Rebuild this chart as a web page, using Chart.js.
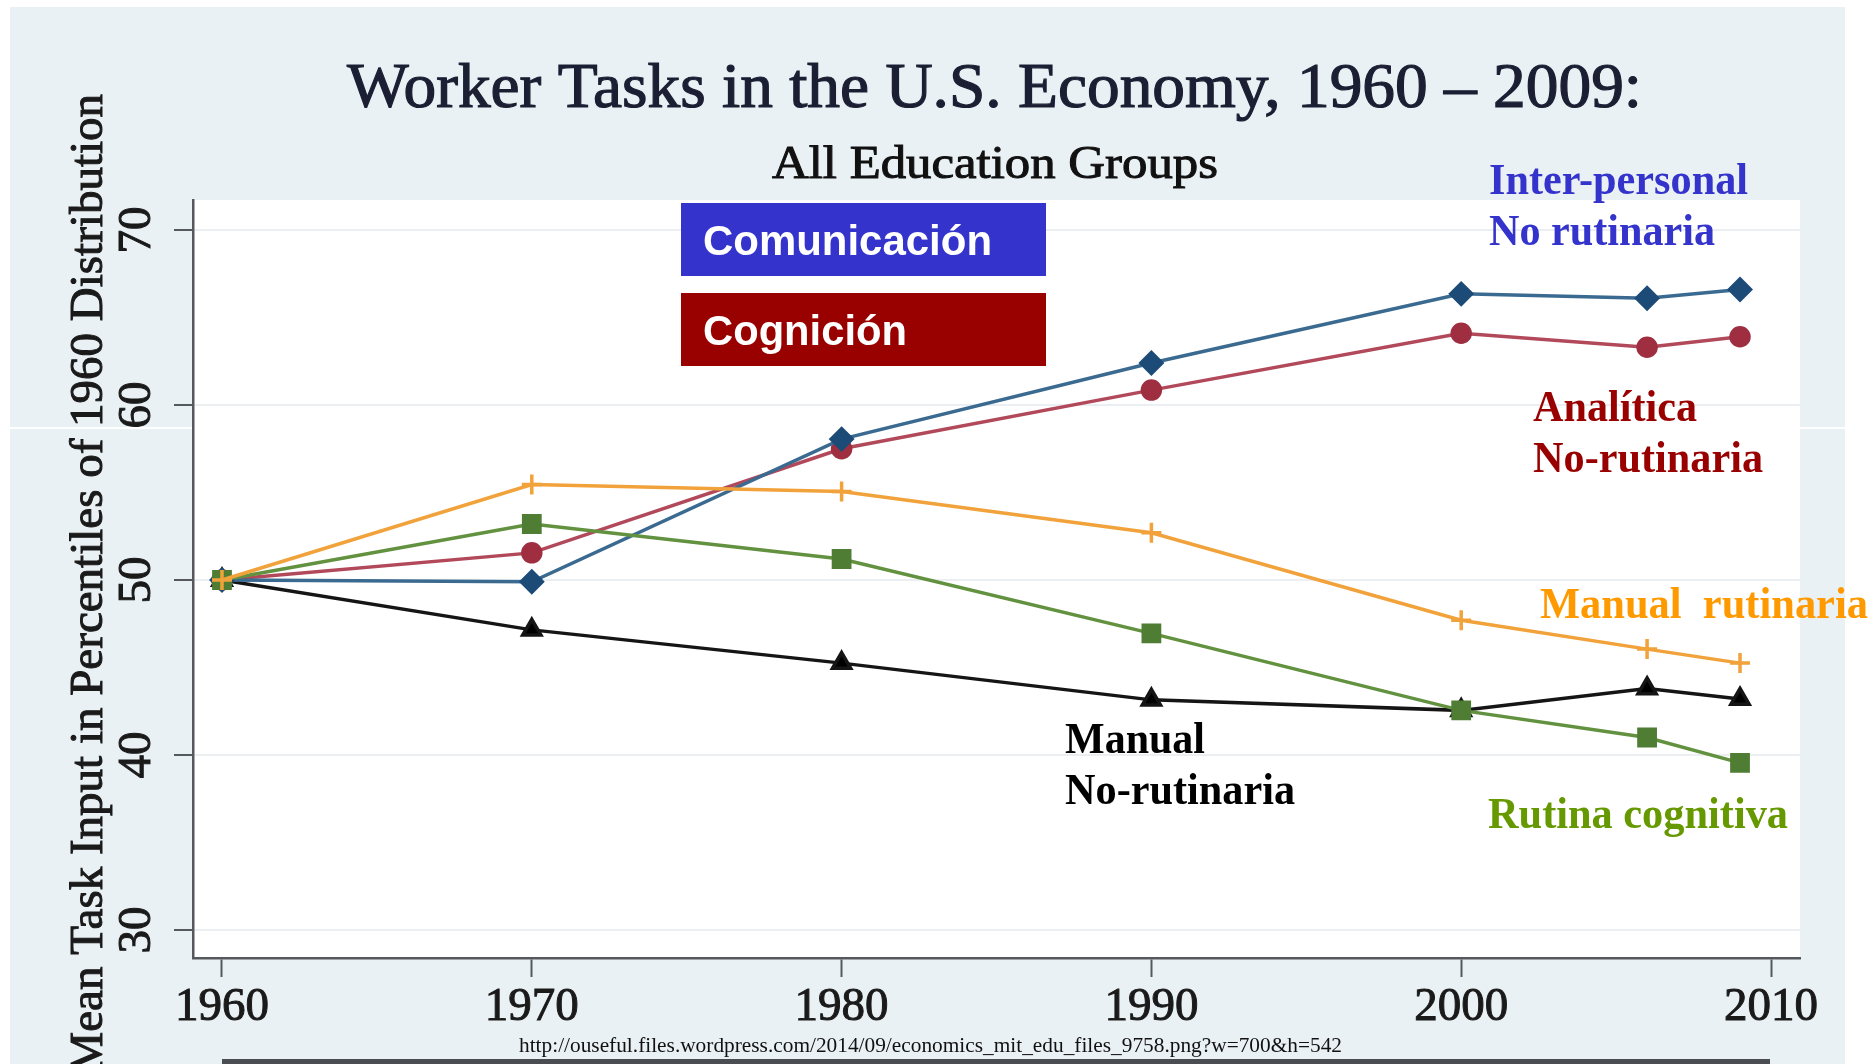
<!DOCTYPE html>
<html>
<head>
<meta charset="utf-8">
<script src="https://cdn.jsdelivr.net/npm/chart.js@4.4.1/dist/chart.umd.min.js"></script>
<style>
  html, body { margin: 0; padding: 0; background: #ffffff; }
  #wrap { width: 1876px; height: 1064px; }
</style>
</head>
<body>
<div id="wrap"><canvas id="grafico" width="1876" height="1064"></canvas></div>
<script>
// datos
const anios = [1960, 1970, 1980, 1990, 2000, 2006, 2009];
const interPersonal = [50, 49.9, 58.05, 62.4, 66.35, 66.1, 66.6];
const analitica = [50, 51.55, 57.5, 60.85, 64.1, 63.3, 63.9];
const manualRutinaria = [50, 55.45, 55.05, 52.7, 47.7, 46.05, 45.25];
const rutinaCognitiva = [50, 53.2, 51.2, 46.95, 42.55, 41.0, 39.55];
const manualNoRutinaria = [50, 47.15, 45.25, 43.15, 42.55, 43.8, 43.2];

const ticksX = [1960, 1970, 1980, 1990, 2000, 2010];
const ticksY = [30, 40, 50, 60, 70];

const titulo = "Worker Tasks in the U.S. Economy, 1960 \u2013 2009:";
const subtitulo = "All Education Groups";
const tituloY = "Mean Task Input in Percentiles of 1960 Distribution";
const fuente = "http://ouseful.files.wordpress.com/2014/09/economics_mit_edu_files_9758.png?w=700&h=542";

const serif = '"Liberation Serif", "Times New Roman", serif';
const sans = '"Liberation Sans", Arial, sans-serif';

function puntos(valores) {
  return anios.map((a, i) => ({ x: a, y: valores[i] }));
}

// texto ajustado a un ancho dado (comprime/estira en horizontal)
function textoAjustado(ctx, texto, izq, base, ancho, font, color, trazo) {
  ctx.save();
  ctx.font = font;
  ctx.fillStyle = color;
  ctx.textAlign = 'left';
  ctx.textBaseline = 'alphabetic';
  const nat = ctx.measureText(texto).width;
  ctx.translate(izq, base);
  ctx.scale(ancho / nat, 1);
  ctx.fillText(texto, 0, 0);
  if (trazo) {
    ctx.strokeStyle = color;
    ctx.lineWidth = trazo;
    ctx.strokeText(texto, 0, 0);
  }
  ctx.restore();
}

function textoGrueso(ctx, texto, x, y) {
  ctx.fillText(texto, x, y);
  ctx.strokeText(texto, x, y);
}

const fondo = {
  id: 'fondo',
  beforeDraw(chart) {
    const { ctx, chartArea: a } = chart;
    ctx.save();
    ctx.fillStyle = '#ffffff';
    ctx.fillRect(0, 0, chart.width, chart.height);
    ctx.fillStyle = '#eaf1f4';
    ctx.fillRect(10, 7, 1835, 1057);
    ctx.fillStyle = '#ffffff';
    ctx.fillRect(0, 427, 1876, 2);
    ctx.fillRect(a.left, a.top, a.right - a.left, a.bottom - a.top);
    ctx.restore();
  },
  afterDraw(chart) {
    const ctx = chart.ctx;
    const sx = chart.scales.x, sy = chart.scales.y;
    ctx.save();

    // titulos
    textoAjustado(ctx, titulo, 347, 107, 1295, '64px ' + serif, '#1c1f33', 1.2);
    textoAjustado(ctx, subtitulo, 772, 178, 446, '46px ' + serif, '#111111', 1);

    // etiquetas eje x
    ctx.font = '47px ' + serif;
    ctx.fillStyle = '#1a1a1a';
    ctx.strokeStyle = '#1a1a1a';
    ctx.lineWidth = 1;
    ctx.textAlign = 'center';
    ctx.textBaseline = 'alphabetic';
    ticksX.forEach(t => textoGrueso(ctx, String(t), sx.getPixelForValue(t), 1020));

    // etiquetas eje y (giradas)
    ticksY.forEach(t => {
      ctx.save();
      ctx.translate(150, sy.getPixelForValue(t));
      ctx.rotate(-Math.PI / 2);
      ctx.textAlign = 'center';
      textoGrueso(ctx, String(t), 0, 0);
      ctx.restore();
    });

    // titulo eje y
    ctx.save();
    ctx.font = '47px ' + serif;
    ctx.translate(102, 94);
    ctx.rotate(-Math.PI / 2);
    ctx.textAlign = 'right';
    textoGrueso(ctx, tituloY, 0, 0);
    ctx.restore();

    // cajas
    ctx.fillStyle = '#3434cc';
    ctx.fillRect(681, 203, 365, 73);
    ctx.fillStyle = '#990000';
    ctx.fillRect(681, 293, 365, 73);
    textoAjustado(ctx, 'Comunicación', 703, 255, 289, 'bold 42px ' + sans, '#ffffff');
    textoAjustado(ctx, 'Cognición', 703, 345, 204, 'bold 42px ' + sans, '#ffffff');

    // anotaciones
    const b = 'bold 44px ' + serif;
    textoAjustado(ctx, 'Inter-personal', 1489, 194, 259, b, '#3434cc');
    textoAjustado(ctx, 'No rutinaria', 1489, 245, 226, b, '#3434cc');
    textoAjustado(ctx, 'Analítica', 1533, 421, 164, b, '#990000');
    textoAjustado(ctx, 'No-rutinaria', 1533, 472, 230, b, '#990000');
    textoAjustado(ctx, 'Manual  rutinaria', 1540, 618, 328, b, '#ff9900');
    textoAjustado(ctx, 'Manual', 1065, 753, 140, b, '#000000');
    textoAjustado(ctx, 'No-rutinaria', 1065, 804, 230, b, '#000000');
    textoAjustado(ctx, 'Rutina cognitiva', 1488, 828, 300, b, '#669900');

    // fuente
    textoAjustado(ctx, fuente, 519, 1052, 823, '21px ' + serif, '#111111');

    // barra inferior
    ctx.fillStyle = '#4a4d52';
    ctx.fillRect(222, 1059, 1548, 5);
    ctx.restore();
  }
};

const ctx = document.getElementById('grafico');

new Chart(ctx, {
  type: 'line',
  data: {
    datasets: [
      {
        label: 'Manual rutinaria',
        data: puntos(manualRutinaria),
        borderColor: '#f2a23a',
        backgroundColor: '#f2a23a',
        borderWidth: 3.5,
        pointStyle: 'cross',
        pointRadius: 10,
        pointBorderWidth: 3.5,
        order: 0
      },
      {
        label: 'Rutina cognitiva',
        data: puntos(rutinaCognitiva),
        borderColor: '#62913f',
        backgroundColor: '#4e7d33',
        pointBorderColor: '#4e7d33',
        borderWidth: 3.5,
        pointStyle: 'rect',
        pointRadius: 11.5,
        order: 1
      },
      {
        label: 'Inter-personal',
        data: puntos(interPersonal),
        borderColor: '#3b6a91',
        backgroundColor: '#1d4b77',
        pointBorderColor: '#1d4b77',
        borderWidth: 3.5,
        pointStyle: 'rectRot',
        pointRadius: 10.5,
        order: 2
      },
      {
        label: 'Analítica',
        data: puntos(analitica),
        borderColor: '#b2495a',
        backgroundColor: '#9e2e40',
        pointBorderColor: '#9e2e40',
        borderWidth: 3.5,
        pointStyle: 'circle',
        pointRadius: 9,
        order: 3
      },
      {
        label: 'Manual no rutinaria',
        data: puntos(manualNoRutinaria),
        borderColor: '#151515',
        backgroundColor: '#000000',
        borderWidth: 3.5,
        pointStyle: 'triangle',
        pointRadius: 10.5,
        order: 4
      }
    ]
  },
  options: {
    responsive: false,
    animation: false,
    devicePixelRatio: 1,
    layout: { padding: { left: 174, right: 76, top: 200, bottom: 87 } },
    plugins: {
      legend: { display: false },
      tooltip: { enabled: false }
    },
    elements: { line: { tension: 0 } },
    scales: {
      x: {
        type: 'linear',
        min: 1959.064,
        max: 2010.936,
        ticks: { display: false, stepSize: 10, includeBounds: false },
        grid: {
          drawOnChartArea: false,
          drawTicks: true,
          tickLength: 19,
          tickColor: '#55585c',
          tickWidth: 2
        },
        border: { display: true, color: '#55585c', width: 2.5 }
      },
      y: {
        type: 'linear',
        min: 28.4,
        max: 71.714,
        ticks: { display: false, stepSize: 10, includeBounds: false },
        grid: {
          color: '#eceff1',
          lineWidth: 2,
          drawTicks: true,
          tickLength: 19,
          tickColor: '#55585c',
          tickWidth: 2
        },
        border: { display: true, color: '#55585c', width: 2.5 }
      }
    }
  },
  plugins: [fondo]
});
</script>
</body>
</html>
